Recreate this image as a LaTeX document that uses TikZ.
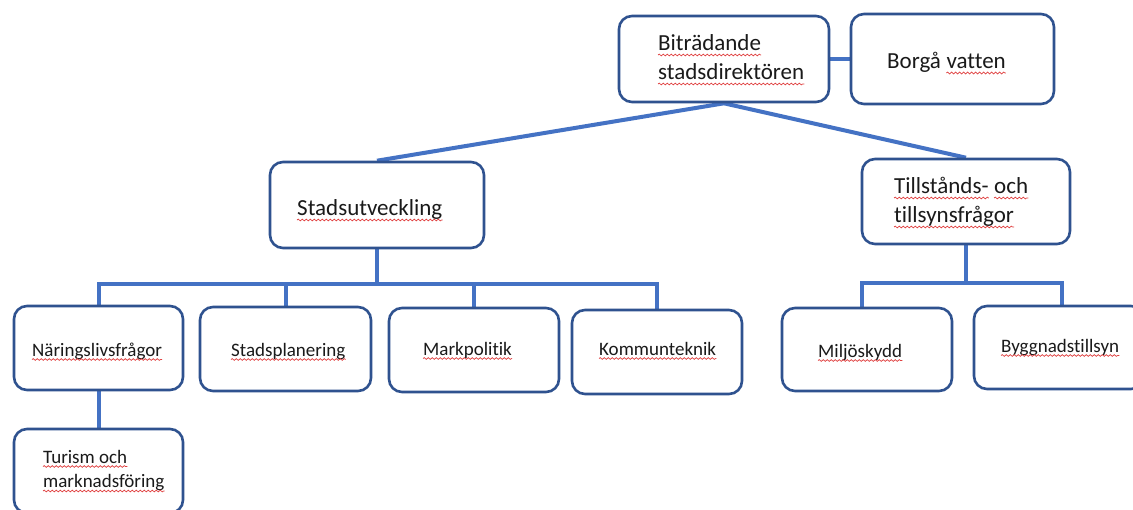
\documentclass[tikz,border=0pt]{standalone}
\usepackage{fontspec}
\setmainfont[Ligatures=NoCommon]{Carlito}
\usetikzlibrary{backgrounds,decorations.pathmorphing}
\definecolor{conn}{HTML}{4472C4}
\definecolor{bord}{HTML}{2F528F}
\definecolor{wavec}{HTML}{E04040}
\definecolor{txt}{HTML}{1A1A1A}
\begin{document}
\begin{tikzpicture}[x=1pt,y=-1pt,
  box/.style={draw=bord, line width=2.6pt, rounded corners=13pt, fill=white, inner sep=0pt},
  link/.style={draw=conn, line width=4pt},
  big/.style={anchor=base west, inner sep=0pt, text=txt, font=\fontsize{23}{29}\selectfont},
  small/.style={anchor=base west, inner sep=0pt, text=txt, font=\fontsize{19}{24.5}\selectfont},
  wav/.style={draw=wavec, line width=0.7pt, decorate, decoration={snake, amplitude=0.9pt, segment length=4pt}}]
\useasboundingbox (0,0) rectangle (1133,509);
\clip (0,0) rectangle (1133,509);
% boxes
\node[box, minimum width=210pt, minimum height=86pt] (bit) at (724,59) {};
\node[box, minimum width=203pt, minimum height=90pt] (borga) at (952.5,59) {};
\node[box, minimum width=214pt, minimum height=86pt] (stad) at (377,205) {};
\node[box, minimum width=208pt, minimum height=85pt] (till) at (966,201.5) {};
\node[box, minimum width=169pt, minimum height=84pt] (nar) at (98.5,348) {};
\node[box, minimum width=171pt, minimum height=84pt] (plan) at (285.5,349) {};
\node[box, minimum width=170pt, minimum height=84pt] (mark) at (474,350) {};
\node[box, minimum width=170pt, minimum height=84pt] (komm) at (657,352) {};
\node[box, minimum width=169pt, minimum height=84pt] (tur) at (98.5,471) {};
\node[box, minimum width=170pt, minimum height=83pt] (milj) at (867,349.5) {};
\node[box, minimum width=170pt, minimum height=83pt] (bygg) at (1059,347.5) {};
% texts
\node[big] (tbitA) at (658,50) {Biträdande};
\node[big] (tbitB) at (658,79) {stadsdirektören};
\node[big] (tborgaA) at (887,68) {Borgå};
\node[big, xshift=5.2pt] (tborgaB) at (tborgaA.base east) {vatten};
\node[big] (tstad) at (297,215) {Stadsutveckling};
\node[big] (ttillA) at (894,193) {Tillstånds-};
\node[big, xshift=5.2pt] (ttillB) at (ttillA.base east) {och};
\node[big] (ttillC) at (894,222) {tillsynsfrågor};
\node[small] (tnar) at (32,356) {Näringslivsfrågor};
\node[small] (tplan) at (231,356) {Stadsplanering};
\node[small] (tmark) at (423,355) {Markpolitik};
\node[small] (tkomm) at (599,355) {Kommunteknik};
\node[small] (tturA) at (43,463) {Turism och};
\node[small] (tturB) at (43,487.5) {marknadsföring};
\node[small] (tmilj) at (818,357) {Miljöskydd};
\node[small] (tbygg) at (1001,352) {Byggnadstillsyn};
% spelling marks
\foreach \n in {tbitA,tbitB,tborgaB,tstad,ttillA,ttillB,ttillC}
  \draw[wav] ([yshift=-5pt]\n.base west) -- ([yshift=-5pt]\n.base east);
\foreach \n in {tnar,tplan,tmark,tkomm,tturA,tturB,tmilj,tbygg}
  \draw[wav] ([yshift=-3.5pt]\n.base west) -- ([yshift=-3.5pt]\n.base east);
% connectors
\begin{scope}[on background layer]
\fill[white] (0,0) rectangle (1133,509);
\coordinate (sbus) at (377,284);
\coordinate (tbus) at (966,283);
\draw[link] (bit.east) -- (borga.west);
\draw[link] (bit.south) -- (stad.north);
\draw[link] (bit.south) -- (till.north);
\draw[link] (stad.south) -- (sbus);
\draw[link] (nar.north) |- (sbus) -| (komm.north);
\draw[link] (plan.north) -- (plan.north |- sbus);
\draw[link] (mark.north) -- (mark.north |- sbus);
\draw[link] (nar.south) -- (tur.north);
\draw[link] (till.south) -- (tbus);
\draw[link] ([xshift=-5pt]milj.north) |- (tbus) -| ([xshift=3pt]bygg.north);
\end{scope}
\end{tikzpicture}
\end{document}
